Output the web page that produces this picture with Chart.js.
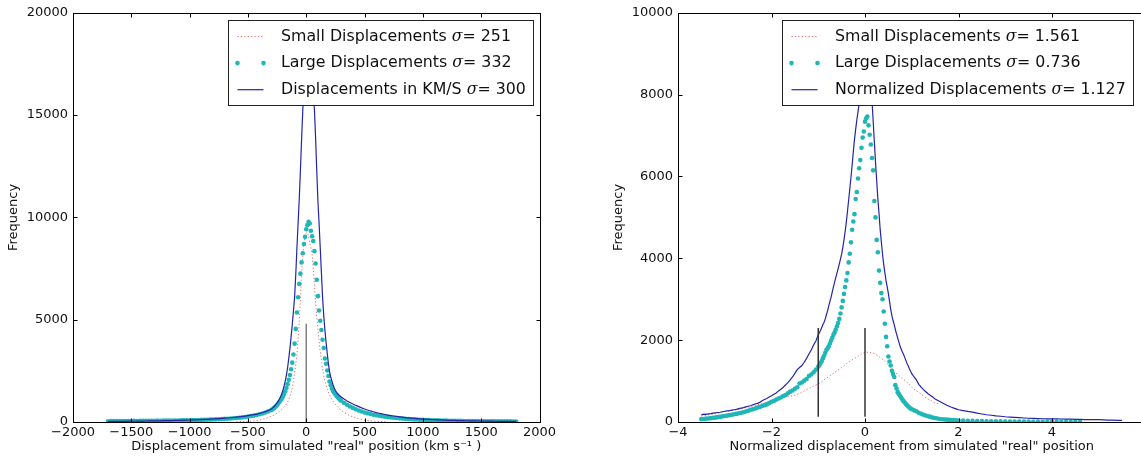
<!DOCTYPE html>
<html>
<head>
<meta charset="utf-8">
<script src="https://cdn.jsdelivr.net/npm/chart.js@4.4.1/dist/chart.umd.min.js"></script>
<style>
html, body { margin: 0; padding: 0; background: #fff; overflow: hidden; width: 1141px; height: 456px; }
.panel { position: absolute; top: 0; width: 570px; height: 456px; }
</style>
</head>
<body>
<div class="panel" style="left:0"><canvas id="leftChart" width="570" height="456"></canvas></div>
<div class="panel" style="left:600px"><canvas id="rightChart" width="570" height="456"></canvas></div>
<script>
// ---- left panel: displacement in km/s ----
const LEFT_X = [
  -1700,-1675,-1650,-1625,-1600,-1575,-1550,-1525,-1500,-1475,-1450,-1425,-1400,-1375,-1350,-1325,-1300,-1275,-1250,-1225,
  -1200,-1175,-1150,-1125,-1100,-1075,-1050,-1025,-1000,-975,-950,-925,-900,-875,-850,-825,-800,-775,-750,-725,
  -700,-675,-650,-625,-600,-575,-550,-525,-500,-475,-450,-425,-400,-375,-350,-325,
  -300,-290,-280,-270,-260,-250,-240,-230,-220,-210,-200,-190,-180,-170,-160,-150,-140,-130,-120,-110,
  -100,-90,-80,-70,-60,-50,-40,-30,-20,-10,0,10,20,30,40,50,60,70,80,90,100,
  110,120,130,140,150,160,170,180,190,200,210,220,230,240,250,260,270,280,290,300,
  325,350,375,400,425,450,475,500,525,550,575,600,625,650,675,700,725,750,775,800,
  825,850,875,900,925,950,975,1000,1025,1050,1075,1100,1125,1150,1175,1200,1225,1250,1275,1300,
  1325,1350,1375,1400,1425,1450,1475,1500,1525,1550,1575,1600,1625,1650,1675,1700,1725,1750,1775,1800
];
const LEFT_LARGE = [
  40,45,42,48,45,50,47,52,50,55,52,57,55,60,58,62,60,65,63,68,
  66,70,72,74,76,79,82,85,88,92,96,100,104,108,113,118,124,130,137,145,
  153,162,172,183,195,210,226,244,265,288,314,344,378,418,466,520,
  580,620,665,715,770,830,900,975,1060,1150,1250,1370,1500,1660,1850,2060,2300,2580,2900,3300,
  3830,4550,5350,6100,6750,7250,7800,8250,8700,9050,9420,9620,9790,9700,9350,9080,8850,8350,7750,6950,6150,
  5450,4950,4500,4020,3620,3100,2850,2520,2250,1980,1800,1630,1520,1430,1350,1280,1210,1150,1090,1040,
  930,840,760,690,625,565,510,465,425,390,358,330,303,280,258,240,222,206,192,178,
  166,155,145,136,127,119,112,105,99,93,88,83,79,75,71,68,64,61,58,56,
  53,51,49,47,45,43,42,40,39,37,36,35,34,33,32,31,30,29,28,27
];
const LEFT_KMS = [
  25,28,30,27,33,35,32,38,40,37,43,46,44,50,53,51,57,60,58,64,
  68,66,72,76,80,84,88,93,98,103,108,114,120,126,133,140,148,156,165,175,
  185,196,208,221,235,251,268,287,308,332,358,388,422,462,510,565,
  630,680,735,795,860,935,1020,1120,1240,1380,1550,1760,2000,2300,2650,3100,3600,4150,4750,5400,
  6100,7200,8500,9700,10900,12300,13800,15200,16400,17400,18100,18500,18600,18300,17700,16800,15900,15300,13900,12300,10800,
  9700,8500,7300,6100,5200,4500,3900,3350,2850,2450,2200,2000,1810,1660,1540,1450,1380,1320,1270,1220,
  1120,1030,950,880,810,750,690,635,585,540,500,462,428,396,367,340,315,292,271,252,
  234,218,203,190,177,165,155,145,136,128,120,113,106,100,94,89,84,79,75,71,
  67,63,60,57,54,51,49,46,44,42,40,38,36,35,33,32,30,29,28,27
];
const LEFT_SMALL_X = [
  -600,-500,-450,-400,-350,-300,-260,-220,-190,-160,-140,-120,-105,-94,-80,-70,-60,-50,-40,-30,
  -20,-10,0,10,20,30,40,50,60,70,80,90,100,110,120,135,150,165,180,200,
  220,250,280,320,370,430,500,600,700
];
const LEFT_SMALL = [
  10,30,60,100,170,280,400,560,720,960,1250,1650,2200,2650,3250,4000,4900,6000,7200,8100,
  8700,9050,9250,9250,9050,8750,8500,8200,7500,6700,5900,5150,4550,3950,3450,2800,2250,1900,1600,1320,
  1100,850,660,480,320,190,90,30,10
];
const LEFT_MARK_X = [0, 0];
const LEFT_MARK_Y = [0, 4800];
const LEFT_LABELS = ['Small Displacements', 'Large Displacements', 'Displacements in KM/S'];
const LEFT_SIGMAS = ['251', '332', '300'];

// ---- right panel: normalized displacement ----
const RIGHT_X = [
  -3.5,-3.45,-3.4,-3.35,-3.3,-3.25,-3.2,-3.15,-3.1,-3.05,-3,-2.95,-2.9,-2.85,-2.8,-2.75,-2.7,-2.65,-2.6,-2.55,
  -2.5,-2.45,-2.4,-2.35,-2.3,-2.25,-2.2,-2.15,-2.1,-2.05,-2,-1.95,-1.9,-1.85,-1.8,-1.75,-1.7,-1.65,-1.6,-1.55,
  -1.5,-1.45,-1.4,-1.35,-1.3,-1.25,-1.2,-1.15,-1.1,-1.05,
  -1,-0.975,-0.95,-0.925,-0.9,-0.875,-0.85,-0.825,-0.8,-0.775,
  -0.75,-0.725,-0.7,-0.675,-0.65,-0.625,-0.6,-0.575,-0.55,-0.525,
  -0.5,-0.475,-0.45,-0.425,-0.4,-0.375,-0.35,-0.325,-0.3,-0.275,
  -0.25,-0.225,-0.2,-0.175,-0.15,-0.125,-0.1,-0.075,-0.05,-0.025,
  0,
  0.025,0.05,0.075,0.1,0.125,0.15,0.175,0.2,0.225,0.25,
  0.275,0.3,0.325,0.35,0.375,0.4,0.425,0.45,0.475,0.5,
  0.525,0.55,0.575,0.6,0.625,0.65,0.675,0.7,0.725,0.75,
  0.775,0.8,0.825,0.85,0.875,0.9,0.925,0.95,0.975,1,
  1.05,1.1,1.15,1.2,1.25,1.3,1.35,1.4,1.45,1.5,1.55,1.6,1.65,1.7,1.75,1.8,1.85,1.9,1.95,2,
  2.1,2.2,2.3,2.4,2.5,2.6,2.7,2.8,2.9,3,3.1,3.2,3.3,3.4,3.5,3.6,3.7,3.8,3.9,4,
  4.1,4.2,4.3,4.4,4.5,4.6,4.7,4.8,4.9,5,5.1,5.2,5.3,5.4,5.5
];
const RIGHT_LARGE = [
  70,75,82,86,94,100,108,118,125,138,146,155,168,176,190,198,214,225,240,256,
  272,300,312,330,352,366,390,412,430,462,495,512,548,575,600,632,660,700,742,770,
  812,850,940,965,1010,1050,1125,1160,1215,1280,
  1350,1390,1440,1490,1560,1620,1690,1760,1800,1850,
  1920,1990,2060,2130,2190,2260,2340,2420,2520,2650,
  2800,2960,3130,3300,3460,3640,3900,4110,4390,4700,
  4900,5080,5450,5620,5950,6200,6400,6700,6950,7100,
  7340,
  7420,7465,7250,7020,6780,6450,6150,5400,5000,4450,
  4150,3700,3400,3150,3000,2700,2400,2080,1850,1600,
  1480,1380,1250,1170,1100,900,820,730,680,640,
  590,550,510,475,440,410,380,355,330,310,
  285,260,225,200,178,158,140,125,108,96,85,75,68,62,57,53,48,45,41,38,
  34,30,27,25,23,20,19,17,15,14,12,11,10,9,8,7,6,6,5,5,
  4,4,3,3,3,2,null,null,null,null,null,null,null,null,null
];
const RIGHT_NORM = [
  175,190,185,200,205,215,225,232,238,250,262,270,276,290,300,310,325,340,352,370,
  385,398,420,440,455,480,520,550,575,610,640,680,710,760,800,850,905,960,1030,1100,
  1190,1280,1330,1380,1460,1555,1660,1760,1880,1980,
  2130,2180,2240,2310,2380,2440,2520,2620,2720,2840,
  2950,3050,3180,3300,3420,3530,3640,3750,3860,3980,
  4100,4260,4450,4650,4880,5150,5420,5700,5980,6280,
  6600,6900,7150,7380,7580,7780,8050,8400,8750,9050,
  9250,
  9300,9200,8950,8600,8200,7850,7350,6850,6350,5900,
  5450,5100,4700,4400,4100,3850,3650,3450,3300,3135,
  2950,2750,2600,2480,2380,2260,2150,2050,1950,1850,
  1780,1710,1650,1580,1500,1430,1370,1300,1240,1180,
  1100,1030,920,850,790,740,690,650,610,560,530,500,470,440,410,385,360,340,320,300,
  280,258,240,215,195,177,165,150,140,128,120,112,105,98,92,88,84,80,78,75,
  74,73,72,68,66,63,60,58,57,56,52,48,45,42,40
];
const RIGHT_SMALL_X = [
  -3.5,-3.4,-3.3,-3.2,-3.1,-3,-2.9,-2.8,-2.7,-2.6,-2.5,-2.4,-2.3,-2.2,-2.1,-2,-1.9,-1.8,-1.7,-1.6,
  -1.5,-1.4,-1.3,-1.2,-1.1,-1,-0.9,-0.8,-0.7,-0.6,-0.5,-0.4,-0.3,-0.2,-0.1,0,0.1,0.2,0.3,0.4,
  0.5,0.6,0.7,0.8,0.9,1,1.1,1.2,1.3,1.4,1.5,1.6
];
const RIGHT_SMALL = [
  150,165,180,200,225,255,270,290,310,335,365,390,420,450,490,525,555,580,610,630,
  655,700,760,820,880,930,1010,1090,1170,1250,1330,1420,1500,1570,1640,1710,1700,1670,1600,1510,
  1400,1280,1160,1060,980,850,760,690,590,530,470,440
];
const RIGHT_MARK_A_X = [-1, -1];
const RIGHT_MARK_B_X = [0, 0];
const RIGHT_MARK_Y = [130, 2300];
const RIGHT_LABELS = ['Small Displacements', 'Large Displacements', 'Normalized Displacements'];
const RIGHT_SIGMAS = ['1.561', '0.736', '1.127'];

const RED = '#e06a6a';
const CYAN = '#1fb6b6';
const BLUE = '#2424a8';
const FONT = '"DejaVu Sans", sans-serif';

function pts(xs, ys) {
  const out = [];
  for (let i = 0; i < Math.min(xs.length, ys.length); i++) {
    if (ys[i] !== null) out.push({x: xs[i], y: ys[i]});
  }
  return out;
}

// matplotlib-like tick labels (unicode minus, no thousands separator)
function fmt(v) {
  return String(v).replace('-', '\u2212');
}

// boxed legend inside the axes, upper right
const boxLegend = {
  id: 'boxLegend',
  afterDatasetsDraw(chart, args, opts) {
    if (!opts || !opts.labels) return;
    const {ctx, chartArea: a} = chart;
    const textFont = '15.8px ' + FONT;
    const sigmaFont = 'italic 15.8px "DejaVu Serif", serif';
    ctx.save();
    const widths = opts.labels.map((name, i) => {
      ctx.font = textFont;
      let w = ctx.measureText(name + ' ').width;
      ctx.font = sigmaFont;
      w += ctx.measureText('\u03c3').width;
      ctx.font = textFont;
      return w + ctx.measureText('= ' + opts.sigmas[i]).width;
    });
    const boxW = 52.5 + Math.max(...widths) + 8;
    const right = Math.round(a.right - opts.inset) + 0.5;
    const left = Math.round(right - boxW) + 0.5;
    const top = Math.round(a.top + 7.3) + 0.5;
    ctx.fillStyle = '#fff';
    ctx.fillRect(left, top, right - left, 85);
    ctx.strokeStyle = '#222';
    ctx.lineWidth = 1;
    ctx.strokeRect(left, top, right - left, 85);

    opts.labels.forEach((name, i) => {
      const cy = top + 16 + i * 26.6;
      const hx0 = left + 9, hx1 = left + 35;
      if (i === 0) {
        ctx.strokeStyle = RED;
        ctx.setLineDash([1.2, 2.2]);
        ctx.beginPath(); ctx.moveTo(hx0, cy); ctx.lineTo(hx1, cy); ctx.stroke();
        ctx.setLineDash([]);
      } else if (i === 1) {
        ctx.fillStyle = CYAN;
        [hx0, hx1].forEach(px => { ctx.beginPath(); ctx.arc(px, cy, 2.3, 0, Math.PI * 2); ctx.fill(); });
      } else {
        ctx.strokeStyle = BLUE;
        ctx.lineWidth = 1.2;
        ctx.beginPath(); ctx.moveTo(hx0, cy); ctx.lineTo(hx1, cy); ctx.stroke();
        ctx.lineWidth = 1;
      }
      ctx.fillStyle = '#111';
      ctx.textBaseline = 'middle';
      ctx.textAlign = 'left';
      let tx = left + 52.5;
      ctx.font = textFont;
      ctx.fillText(name + ' ', tx, cy);
      tx += ctx.measureText(name + ' ').width;
      ctx.font = sigmaFont;
      ctx.fillText('\u03c3', tx, cy);
      tx += ctx.measureText('\u03c3').width;
      ctx.font = textFont;
      ctx.fillText('= ' + opts.sigmas[i], tx, cy);
    });
    ctx.restore();
  }
};

// full frame with inward ticks on all four sides
const frameTicks = {
  id: 'frameTicks',
  afterDraw(chart) {
    const {ctx, chartArea: a, scales: {x, y}} = chart;
    const L = Math.round(a.left) + 0.5, R = Math.round(a.right) + 0.5;
    const T = Math.round(a.top) + 0.5, B = Math.round(a.bottom) + 0.5;
    ctx.save();
    ctx.strokeStyle = '#000';
    ctx.lineWidth = 1;
    ctx.beginPath();
    x.ticks.forEach(t => {
      const px = Math.round(x.getPixelForValue(t.value)) + 0.5;
      if (px <= L + 1 || px >= R - 1) return;
      ctx.moveTo(px, B); ctx.lineTo(px, B - 4);
      ctx.moveTo(px, T); ctx.lineTo(px, T + 4);
    });
    y.ticks.forEach(t => {
      const py = Math.round(y.getPixelForValue(t.value)) + 0.5;
      if (py <= T + 1 || py >= B - 1) return;
      ctx.moveTo(L, py); ctx.lineTo(L + 4, py);
      ctx.moveTo(R, py); ctx.lineTo(R - 4, py);
    });
    ctx.stroke();
    ctx.strokeRect(L, T, R - L, B - T);
    ctx.restore();
  }
};

function makeChart(id, cfg) {
  const tickFont = {family: FONT, size: 13};
  return new Chart(document.getElementById(id), {
    type: 'line',
    data: {datasets: cfg.datasets},
    options: {
      responsive: false,
      animation: false,
      devicePixelRatio: 1,
      events: [],
      parsing: false,
      layout: {padding: {left: 0, top: 11.7, right: cfg.padRight, bottom: 0}},
      elements: {line: {tension: 0}},
      scales: {
        x: {
          type: 'linear', min: cfg.xMin, max: cfg.xMax,
          grid: {display: false, drawTicks: false}, border: {display: false},
          ticks: {
            stepSize: cfg.xStep, autoSkip: false, maxRotation: 0, padding: 3,
            color: '#111', font: tickFont,
            callback: v => (v > cfg.xShowMax ? '' : fmt(v))
          },
          title: {display: true, text: cfg.xTitle, color: '#111', font: tickFont, padding: {top: 0, bottom: 1.2}},
          afterFit: s => { s.height = 34; }
        },
        y: {
          type: 'linear', min: cfg.yMin, max: cfg.yMax,
          grid: {display: false, drawTicks: false}, border: {display: false},
          ticks: {stepSize: cfg.yStep, autoSkip: false, padding: 5, color: '#111', font: tickFont, callback: fmt},
          title: {display: true, text: 'Frequency', color: '#111', font: tickFont, padding: {top: cfg.yTitlePad, bottom: 0}},
          afterFit: s => { s.width = cfg.yWidth; }
        }
      },
      plugins: {
        legend: {display: false},
        tooltip: {enabled: false},
        boxLegend: {labels: cfg.labels, sigmas: cfg.sigmas, inset: cfg.legendInset}
      }
    },
    plugins: [boxLegend, frameTicks]
  });
}

function seriesSet(small, large, main, marks, markColor) {
  const sets = [
    {data: small, borderColor: RED, borderWidth: 1, borderDash: [1.2, 2.2], pointRadius: 0, order: 3},
    {data: large, showLine: false, pointRadius: 2.3, pointBorderWidth: 0, pointBackgroundColor: CYAN, borderColor: CYAN, order: 2},
    {data: main, borderColor: BLUE, borderWidth: 1.2, pointRadius: 0, order: 1}
  ];
  marks.forEach(m => sets.push({data: m, borderColor: markColor, borderWidth: 1.5, pointRadius: 0, order: 0}));
  return sets;
}

makeChart('leftChart', {
  datasets: seriesSet(
    pts(LEFT_SMALL_X, LEFT_SMALL), pts(LEFT_X, LEFT_LARGE), pts(LEFT_X, LEFT_KMS),
    [pts(LEFT_MARK_X, LEFT_MARK_Y)], '#808080'),
  xMin: -2000, xMax: 2000, xStep: 500, xShowMax: 2000,
  yMin: 0, yMax: 20000, yStep: 5000,
  xTitle: 'Displacement from simulated "real" position (km s\u207b\u00b9 )',
  yWidth: 73, yTitlePad: 6.2, padRight: 30.5,
  labels: LEFT_LABELS, sigmas: LEFT_SIGMAS, legendInset: 6.5
});

makeChart('rightChart', {
  datasets: seriesSet(
    pts(RIGHT_SMALL_X, RIGHT_SMALL), pts(RIGHT_X, RIGHT_LARGE), pts(RIGHT_X, RIGHT_NORM),
    [pts(RIGHT_MARK_A_X, RIGHT_MARK_Y), pts(RIGHT_MARK_B_X, RIGHT_MARK_Y)], '#333'),
  xMin: -4, xMax: 6, xStep: 2, xShowMax: 4,
  yMin: 0, yMax: 10000, yStep: 2000,
  xTitle: 'Normalized displacement from simulated "real" position',
  yWidth: 78, yTitlePad: 11.2, padRight: 24.5,
  labels: RIGHT_LABELS, sigmas: RIGHT_SIGMAS, legendInset: 12.5
});
</script>
</body>
</html>
